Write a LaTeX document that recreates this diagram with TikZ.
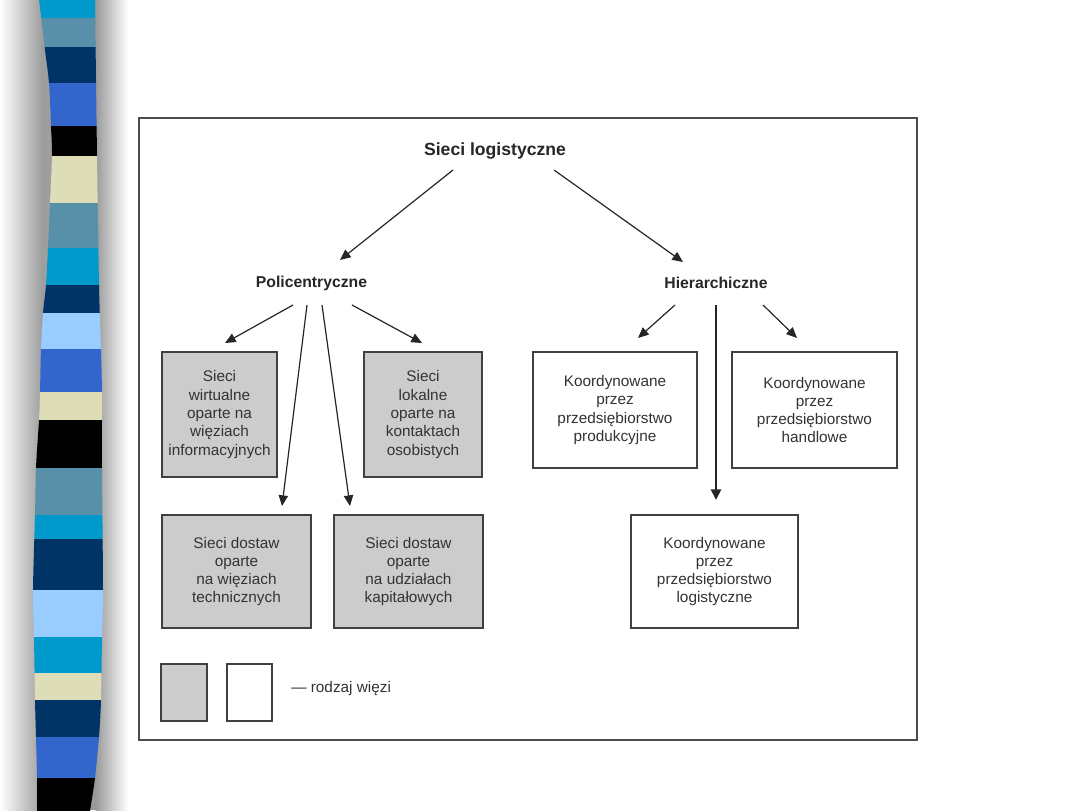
\documentclass[tikz,border=0pt]{standalone}
\usepackage{fontspec}
\setmainfont{Liberation Sans}
\usetikzlibrary{arrows.meta}
\definecolor{cCyan}{HTML}{0099CC}
\definecolor{cSteel}{HTML}{5890AA}
\definecolor{cNavy}{HTML}{003366}
\definecolor{cRoyal}{HTML}{3366CC}
\definecolor{cBeige}{HTML}{DDDDB8}
\definecolor{cLight}{HTML}{99CCFF}
\begin{document}
\begin{tikzpicture}[x=0.75pt,y=-0.75pt,
  gbox/.style={draw=black!75, line width=1pt, fill=gray!40, inner sep=0pt, align=center,
     font=\fontsize{11.5}{13.7}\selectfont, text=black!80},
  wbox/.style={gbox, fill=white},
  head/.style={font=\bfseries\fontsize{11.8}{14}\selectfont, text=black!85},
  arr/.style={draw=black!85, line width=0.9pt, -{Triangle[length=8pt,width=7pt]}}]
\useasboundingbox (0,0) rectangle (1080,810);
\fill[white] (0,0) rectangle (1080,810);
% left shadow
\shade[left color=white, right color=black!38] (0,0) rectangle (42,810);
\fill[black!38] (41,0) rectangle (70,810);
\fill[black!40] (70,0) rectangle (96,810);
\shade[left color=black!40, right color=white] (95.5,0) rectangle (128,810);
% striped strip
\begin{scope}
\clip plot[smooth] coordinates {(39,-1) (45,50) (49,83) (51,126) (52,156) (50,203) (48,248) (46,285) (43,313) (41,349) (40,392) (39,420) (36,468) (35,515) (33,590) (34,637) (35,700) (36,737) (37,778) (37,811)}
  -- plot[smooth] coordinates {(90,811) (95,778) (99,737) (101,700) (102,637) (103,590) (102,468) (102,420) (102,392) (101,349) (99,285) (97,156) (95,-1)} -- cycle;
\fill[cCyan] (20,-1) rectangle (120,18);
\fill[cSteel] (20,18) rectangle (120,47);
\fill[cNavy] (20,47) rectangle (120,83);
\fill[cRoyal] (20,83) rectangle (120,126);
\fill[black] (20,126) rectangle (120,156);
\fill[cBeige] (20,156) rectangle (120,203);
\fill[cSteel] (20,203) rectangle (120,248);
\fill[cCyan] (20,248) rectangle (120,285);
\fill[cNavy] (20,285) rectangle (120,313);
\fill[cLight] (20,313) rectangle (120,349);
\fill[cRoyal] (20,349) rectangle (120,392);
\fill[cBeige] (20,392) rectangle (120,420);
\fill[black] (20,420) rectangle (120,468);
\fill[cSteel] (20,468) rectangle (120,515);
\fill[cCyan] (20,515) rectangle (120,539);
\fill[cNavy] (20,539) rectangle (120,590);
\fill[cLight] (20,590) rectangle (120,637);
\fill[cCyan] (20,637) rectangle (120,673);
\fill[cBeige] (20,673) rectangle (120,700);
\fill[cNavy] (20,700) rectangle (120,737);
\fill[cRoyal] (20,737) rectangle (120,778);
\fill[black] (20,778) rectangle (120,811);
\end{scope}
% frame
\draw[black!70, line width=1.2pt] (139,118) rectangle (917,740);
% headings
\node[head, font=\bfseries\fontsize{13.2}{16}\selectfont] (title) at (495,151) {Sieci logistyczne};
\node[head] (poli) at (311.5,283) {Policentryczne};
\node[head] (hier) at (716,283) {Hierarchiczne};
% boxes
\node[gbox, minimum width=86.25pt, minimum height=93.75pt] (b1) at (219.5,414.5) {Sieci\\wirtualne\\oparte na\\więziach\\informacyjnych};
\node[gbox, minimum width=88.5pt, minimum height=93.75pt] (b2) at (423,414.5) {Sieci\\lokalne\\oparte na\\kontaktach\\osobistych};
\node[gbox, minimum width=111.75pt, minimum height=84.75pt] (b3) at (236.5,571.5) {Sieci dostaw\\oparte\\na więziach\\technicznych};
\node[gbox, minimum width=111.75pt, minimum height=84.75pt] (b4) at (408.5,571.5) {Sieci dostaw\\oparte\\na udziałach\\kapitałowych};
\node[wbox, minimum width=123pt, minimum height=87pt] (b5) at (615,410) {Koordynowane\\przez\\przedsiębiorstwo\\produkcyjne};
\node[wbox, minimum width=123.75pt, minimum height=87pt] (b6) at (814.5,410) {Koordynowane\\przez\\przedsiębiorstwo\\handlowe};
\node[wbox, minimum width=125.25pt, minimum height=84.75pt] (b7) at (714.5,571.5) {Koordynowane\\przez\\przedsiębiorstwo\\logistyczne};
% legend
\node[gbox, minimum width=34.5pt, minimum height=42.75pt] (lg) at (184,692.5) {};
\node[wbox, minimum width=33.75pt, minimum height=42.75pt] (lw) at (249.5,692.5) {};
\node[anchor=west, inner sep=0pt, font=\fontsize{11.5}{13.7}\selectfont, text=black!80] (lt) at (291,689) {— rodzaj więzi};
% connector end points
\coordinate (tA) at (453,170); \coordinate (pIn) at (340,260);
\coordinate (tB) at (554,170); \coordinate (hIn) at (683,262);
\coordinate (p1) at (293,305); \coordinate (b1In) at (225,343);
\coordinate (p2) at (307,305); \coordinate (b3In) at (282,506);
\coordinate (p3) at (322,305); \coordinate (b4In) at (350,506);
\coordinate (p4) at (352,305); \coordinate (b2In) at (422,343);
\coordinate (h1) at (675,305); \coordinate (b5In) at (638,338);
\coordinate (h2) at (716,305); \coordinate (b7In) at (716,500);
\coordinate (h3) at (763,305); \coordinate (b6In) at (797,338);
% connectors
\draw[arr] (tA) -- (pIn);
\draw[arr] (tB) -- (hIn);
\draw[arr] (p1) -- (b1In);
\draw[arr] (p2) -- (b3In);
\draw[arr] (p3) -- (b4In);
\draw[arr] (p4) -- (b2In);
\draw[arr] (h1) -- (b5In);
\draw[arr, line width=2.2pt, -{Triangle[length=8pt,width=7.5pt]}] (h2) -- (b7In);
\draw[arr] (h3) -- (b6In);
\end{tikzpicture}
\end{document}
